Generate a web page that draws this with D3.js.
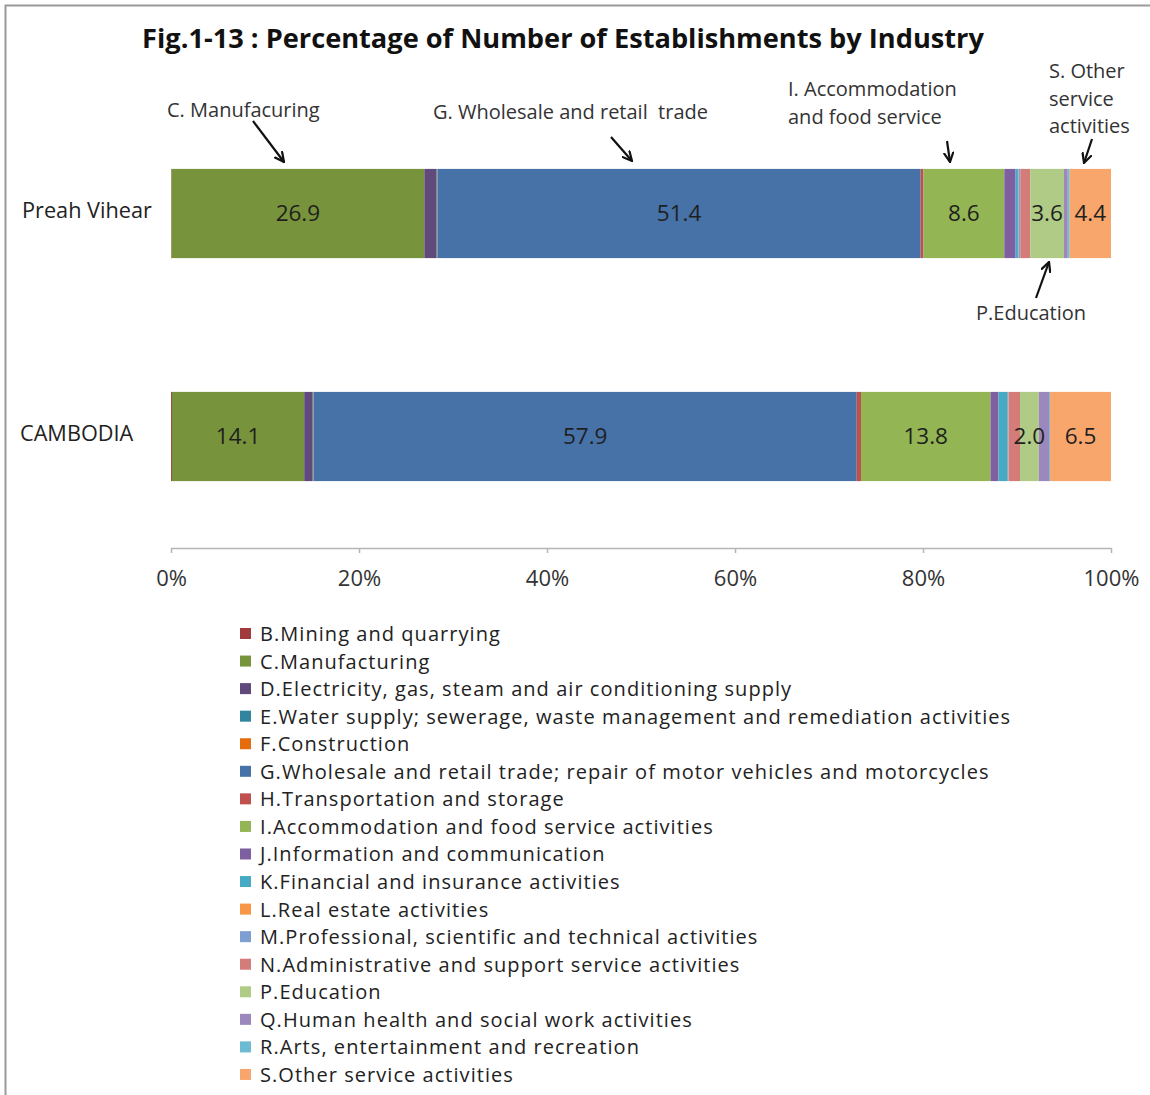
<!DOCTYPE html>
<html>
<head>
<meta charset="utf-8">
<script src="https://cdn.jsdelivr.net/npm/d3@7"></script>
<style>
  body { margin: 0; background: #fff; }
  text { font-family: "Open Sans", Lato, sans-serif; }
</style>
</head>
<body>
<script>
// chart values
const regions = ["Preah Vihear", "CAMBODIA"];
const industries = [
  "B.Mining and quarrying",
  "C.Manufacturing",
  "D.Electricity, gas, steam and air conditioning supply",
  "E.Water supply; sewerage, waste management and remediation activities",
  "F.Construction",
  "G.Wholesale and retail trade; repair of motor vehicles and motorcycles",
  "H.Transportation and storage",
  "I.Accommodation and food service activities",
  "J.Information and communication",
  "K.Financial and insurance activities",
  "L.Real estate activities",
  "M.Professional, scientific and technical activities",
  "N.Administrative and support service activities",
  "P.Education",
  "Q.Human health and social work activities",
  "R.Arts, entertainment and recreation",
  "S.Other service activities"
];
const preahVihear = [0.05, 26.9, 1.3, 0.05, 0.05, 51.4, 0.3, 8.6, 1.2, 0.25, 0.05, 0.2, 1.05, 3.6, 0.4, 0.2, 4.4];
const cambodia    = [0.1, 14.1, 0.9, 0.05, 0.05, 57.9, 0.45, 13.8, 0.85, 1.0, 0.05, 0.05, 1.2, 2.0, 1.1, 0.1, 6.5];
const colors = ["#A03A3D", "#77933C", "#604A7B", "#31859C", "#E46C0A", "#4672A8", "#C0504D",
                "#93B553", "#7E60A0", "#46AAC5", "#F79646", "#7F9FD1", "#D37C79", "#B0CB85",
                "#9C88BC", "#6DBBD3", "#F9A66D"];
// which segments get a value label
const labelled = ["C.Manufacturing", "G.Wholesale and retail trade; repair of motor vehicles and motorcycles",
                  "I.Accommodation and food service activities", "P.Education", "S.Other service activities"];
const tickValues = [0, 0.2, 0.4, 0.6, 0.8, 1];

const width = 1150, height = 1095;
const margin = {left: 171, right: 39, top: 102, axis: 548};

const values = [preahVihear, cambodia];
const table = regions.map((r, i) => {
    const row = {region: r};
    industries.forEach((k, j) => row[k] = values[i][j]);
    return row;
});

const svg = d3.select("body").append("svg")
    .attr("width", width)
    .attr("height", height);

// outer frame (only left and top edges are in view)
svg.append("rect")
    .attr("x", 5.5).attr("y", 5.5)
    .attr("width", width + 10).attr("height", height + 10)
    .attr("fill", "none")
    .attr("stroke", "#9a9a9a")
    .attr("stroke-width", 2);

svg.append("text")
    .attr("x", 563).attr("y", 48)
    .attr("text-anchor", "middle")
    .attr("font-size", 27.2)
    .attr("font-weight", "bold")
    .attr("fill", "#111")
    .text("Fig.1-13 : Percentage of Number of Establishments by Industry");

const x = d3.scaleLinear().domain([0, 1]).range([margin.left, width - margin.right]);
const y = d3.scaleBand().domain(regions).range([margin.top, margin.axis])
    .paddingInner(0.6).paddingOuter(0.3);
const color = d3.scaleOrdinal().domain(industries).range(colors);

const series = d3.stack().keys(industries).offset(d3.stackOffsetExpand)(table);

const layer = svg.append("g").selectAll("g")
    .data(series)
    .join("g")
    .attr("fill", d => color(d.key));

layer.selectAll("rect")
    .data(d => d.map(p => Object.assign(p, {key: d.key})))
    .join("rect")
    .attr("x", d => x(d[0]))
    .attr("y", d => y(d.data.region))
    .attr("width", d => x(d[1]) - x(d[0]))
    .attr("height", y.bandwidth());

// value labels
svg.append("g").selectAll("text")
    .data(series.filter(s => labelled.includes(s.key)).flatMap(s => s))
    .join("text")
    .attr("x", d => (x(d[0]) + x(d[1])) / 2)
    .attr("y", d => y(d.data.region) + y.bandwidth() / 2)
    .attr("dy", "0.35em")
    .attr("text-anchor", "middle")
    .attr("font-size", 22.5)
    .attr("fill", "#1f1f1f")
    .text(d => d.data[d.key].toFixed(1));

// category labels
svg.append("g").selectAll("text")
    .data(regions)
    .join("text")
    .attr("x", (d, i) => i === 0 ? 22 : 20)
    .attr("y", d => y(d) + y.bandwidth() / 2 - 3)
    .attr("dy", "0.35em")
    .attr("font-size", 21.7)
    .attr("fill", "#222")
    .text(d => d);

// x axis
const axis = svg.append("g")
    .attr("transform", `translate(0,${margin.axis})`)
    .call(d3.axisBottom(x).tickValues(tickValues).tickFormat(d3.format(".0%"))
        .tickSize(5).tickSizeOuter(0).tickPadding(17));
axis.select(".domain").attr("stroke", "#b5b5b5").attr("stroke-width", 1.5);
axis.selectAll(".tick line").attr("stroke", "#b5b5b5").attr("stroke-width", 1.5);
axis.selectAll(".tick text")
    .attr("font-family", "'Open Sans', sans-serif")
    .attr("font-size", 22)
    .attr("fill", "#333");

// annotations with arrows
svg.append("defs").append("marker")
    .attr("id", "head")
    .attr("viewBox", "0 0 10 10")
    .attr("refX", 9).attr("refY", 5)
    .attr("markerWidth", 11).attr("markerHeight", 11)
    .attr("markerUnits", "userSpaceOnUse")
    .attr("orient", "auto")
    .append("path")
    .attr("d", "M0,0.5 L9,5 L0,9.5")
    .attr("fill", "none")
    .attr("stroke", "#111")
    .attr("stroke-width", 2);

const notes = [
    {lines: ["C. Manufacuring"], tx: 167, ty: 117, from: [253, 121], to: [284, 162]},
    {lines: ["G. Wholesale and retail  trade"], tx: 433, ty: 119, from: [611, 137], to: [632, 161]},
    {lines: ["I. Accommodation", "and food service"], tx: 788, ty: 96, from: [947, 141], to: [950, 162]},
    {lines: ["S. Other", "service", "activities"], tx: 1049, ty: 78, from: [1092, 139], to: [1084, 163]},
    {lines: ["P.Education"], tx: 976, ty: 320, from: [1036, 298], to: [1049, 262]}
];

notes.forEach(n => {
    const t = svg.append("text")
        .attr("x", n.tx).attr("y", n.ty)
        .attr("font-size", 20)
        .attr("fill", "#333");
    n.lines.forEach((l, i) => {
        t.append("tspan").attr("x", n.tx).attr("dy", i === 0 ? 0 : 27.5)
            .attr("xml:space", "preserve").text(l);
    });
    svg.append("line")
        .attr("x1", n.from[0]).attr("y1", n.from[1])
        .attr("x2", n.to[0]).attr("y2", n.to[1])
        .attr("stroke", "#111")
        .attr("stroke-width", 2.2)
        .attr("marker-end", "url(#head)");
});

// legend
const legend = svg.append("g").selectAll("g")
    .data(industries)
    .join("g")
    .attr("transform", (d, i) => `translate(240,${634 + i * 27.56})`);

legend.append("rect")
    .attr("x", 0).attr("y", -6)
    .attr("width", 11).attr("height", 11)
    .attr("fill", d => color(d));

legend.append("text")
    .attr("x", 20)
    .attr("dy", "0.35em")
    .attr("font-size", 20)
    .attr("letter-spacing", 1.05)
    .attr("fill", "#222")
    .text(d => d);
</script>
</body>
</html>
